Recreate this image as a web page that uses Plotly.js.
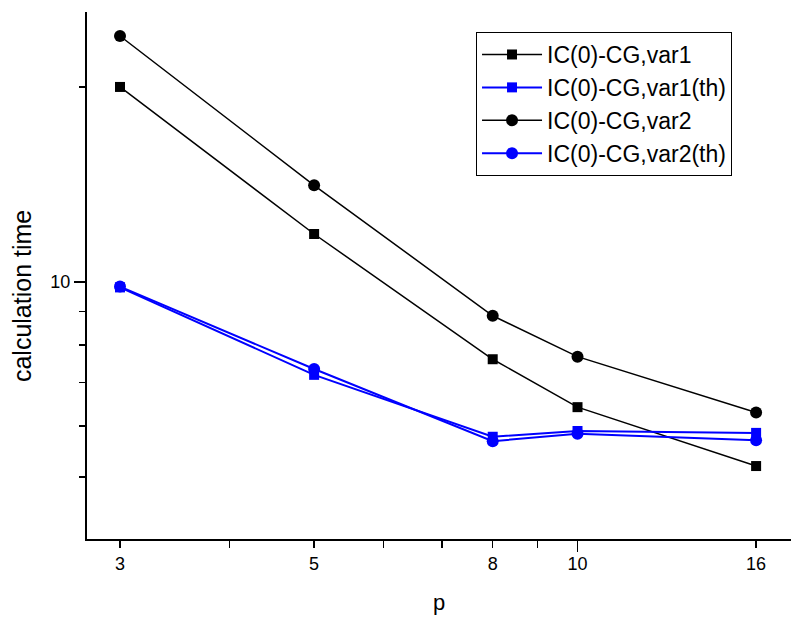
<!DOCTYPE html>
<html>
<head>
<meta charset="utf-8">
<script src="https://cdn.plot.ly/plotly-3.0.1.min.js"></script>
<style>html,body{margin:0;padding:0;background:#fff;}#chart{width:791px;height:622px;}</style>
</head>
<body>
<div id="chart"></div>
<script>
const pValues = [3, 5, 8, 10, 16];
const var1 = [20.0, 11.86, 7.60, 6.41, 5.20];
const var1th = [9.81, 7.19, 5.77, 5.89, 5.85];
const var2 = [23.97, 14.1, 8.87, 7.67, 6.29];
const var2th = [9.84, 7.34, 5.68, 5.83, 5.70];
const seriesNames = ['IC(0)-CG,var1', 'IC(0)-CG,var1(th)', 'IC(0)-CG,var2', 'IC(0)-CG,var2(th)'];
const xTickVals = [3, 5, 8, 10, 16];
const xTickText = ['3', '5', '8', '10', '16'];
const xMinorVals = [4, 6, 7, 9];
const xDecadeVals = [10];
const yTickVals = [10];
const yTickText = ['10'];
const yMinorVals = [5, 6, 7, 8, 9, 20];
const yTitle = 'calculation time';

const FONT = 'Arial, "Liberation Sans", sans-serif';
const traces = [
  {x: pValues, y: var1, name: seriesNames[0], mode: 'lines+markers',
   line: {color: '#000000', width: 1.5}, marker: {symbol: 'square', size: 10, color: '#000000'}},
  {x: pValues, y: var1th, name: seriesNames[1], mode: 'lines+markers',
   line: {color: '#0000ff', width: 2}, marker: {symbol: 'square', size: 10, color: '#0000ff'}},
  {x: pValues, y: var2, name: seriesNames[2], mode: 'lines+markers',
   line: {color: '#000000', width: 1.5}, marker: {symbol: 'circle', size: 12, color: '#000000'}},
  {x: pValues, y: var2th, name: seriesNames[3], mode: 'lines+markers',
   line: {color: '#0000ff', width: 2}, marker: {symbol: 'circle', size: 12, color: '#0000ff'}},
  {x: [], y: [], xaxis: 'x2', yaxis: 'y', showlegend: false, hoverinfo: 'skip', mode: 'lines'}
];

const layout = {
  width: 791, height: 622,
  margin: {l: 87, r: 0, t: 12, b: 83},
  paper_bgcolor: '#ffffff', plot_bgcolor: '#ffffff',
  font: {family: FONT, color: '#000000', size: 18},
  showlegend: true,
  legend: {x: 0.5526, y: 0.962, xanchor: 'left', yanchor: 'top',
           bordercolor: '#000000', borderwidth: 1, bgcolor: '#ffffff',
           font: {family: FONT, size: 23, color: '#000000'}, tracegroupgap: 0,
           itemwidth: 60},
  xaxis: {
    type: 'log', range: [0.4394, 1.244],
    tickmode: 'array', tickvals: xTickVals, ticktext: xTickText,
    ticks: 'outside', ticklen: 7, tickwidth: 1.5, tickcolor: '#000',
    minor: {tickmode: 'array', tickvals: xMinorVals, ticks: 'outside', ticklen: 7, tickwidth: 1.5, tickcolor: '#000', showgrid: false},
    showline: true, linecolor: '#000', linewidth: 2,
    showgrid: false, zeroline: false,
    tickfont: {family: FONT, size: 18},
    title: {text: 'p', font: {family: FONT, size: 22}, standoff: 22}
  },
  xaxis2: {
    type: 'log', range: [0.4394, 1.244], overlaying: 'x', anchor: 'y', side: 'bottom',
    tickmode: 'array', tickvals: xDecadeVals, ticks: 'outside', ticklen: 12, tickwidth: 1.5, tickcolor: '#000',
    showticklabels: false, showline: false, showgrid: false, zeroline: false
  },
  yaxis: {
    type: 'log', range: [0.6034, 1.4167],
    tickmode: 'array', tickvals: yTickVals, ticktext: yTickText,
    ticks: 'outside', ticklen: 11, tickwidth: 1.5, tickcolor: '#000',
    minor: {tickmode: 'array', tickvals: yMinorVals, ticks: 'outside', ticklen: 6, tickwidth: 1.5, tickcolor: '#000', showgrid: false},
    showline: true, linecolor: '#000', linewidth: 2,
    showgrid: false, zeroline: false,
    tickfont: {family: FONT, size: 18}
  },
  annotations: [
    {text: yTitle, xref: 'paper', yref: 'paper', x: -0.0923, y: 0.461,
     xanchor: 'center', yanchor: 'middle', textangle: -90, showarrow: false,
     font: {family: FONT, size: 25, color: '#000000'}}
  ]
};

Plotly.newPlot('chart', traces, layout, {displayModeBar: false, staticPlot: true});
</script>
</body>
</html>
